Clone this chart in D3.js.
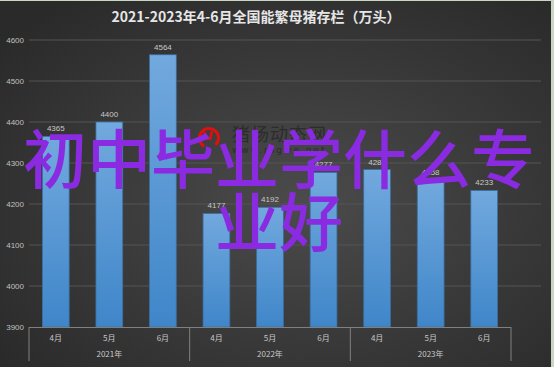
<!DOCTYPE html>
<html><head><meta charset="utf-8">
<script src="https://cdn.jsdelivr.net/npm/d3@7"></script>
<style>html,body{margin:0;padding:0;background:#c9d6c2;}svg{display:block;}</style>
</head><body>
<svg id="c" width="554" height="367"></svg>
<script>
const title = "2021-2023年4-6月全国能繁母猪存栏（万头）";
const months = ["4月","5月","6月","4月","5月","6月","4月","5月","6月"];
const years = ["2021年","2022年","2023年"];
const values = [4365, 4400, 4564, 4177, 4192, 4277, 4284, 4258, 4233];
const yTicks = [3900, 4000, 4100, 4200, 4300, 4400, 4500, 4600];
const overlayLines = ["初中毕业学什么专", "业好"];

const svg = d3.select("#c");
const W = 551, H = 366;
const defs = svg.append("defs");
const bg = defs.append("radialGradient").attr("id","bg").attr("cx","55%").attr("cy","55%").attr("r","70%");
bg.append("stop").attr("offset","0%").attr("stop-color","#4b4b4b");
bg.append("stop").attr("offset","100%").attr("stop-color","#2a2a2a");
const bar = defs.append("linearGradient").attr("id","bar").attr("x1",0).attr("y1",0).attr("x2",0).attr("y2",1);
bar.append("stop").attr("offset","0%").attr("stop-color","#72a9de");
bar.append("stop").attr("offset","100%").attr("stop-color","#3f86c9");

svg.append("rect").attr("x",0).attr("y",1).attr("width",W).attr("height",H).attr("fill","url(#bg)");

const left = 29, right = 511, gridRight = 541;
const y = d3.scaleLinear().domain([3900, 4600]).range([327, 40]);
const x = d3.scaleBand().domain(d3.range(values.length)).range([left, right]).paddingInner(0.5).paddingOuter(0.25);

svg.append("g").selectAll("line").data(yTicks.slice(1)).join("line")
  .attr("x1", left).attr("x2", gridRight).attr("y1", d=>y(d)).attr("y2", d=>y(d))
  .attr("stroke","#555555").attr("stroke-width",1);

svg.append("g").selectAll("text").data(yTicks).join("text")
  .attr("x", 24).attr("y", d=>y(d)).attr("dy","0.35em").attr("text-anchor","end")
  .attr("font-family","Liberation Sans, Arial, sans-serif").attr("font-size",8).attr("fill","#c0c0c0")
  .text(d=>d);

const wm = svg.append("g");
wm.append("path").attr("d", d3.arc()({innerRadius:8, outerRadius:11, startAngle:-2.6, endAngle:2.4}))
  .attr("transform","translate(209,138)").attr("fill","#e01010");
wm.append("path").attr("d","M204,132 L208,140 M212,131 L210,140").attr("stroke","#e01010").attr("stroke-width",2.5);
wm.append("text").attr("x",232).attr("y",141).attr("font-family","Noto Sans CJK SC").attr("font-size",18)
  .attr("fill","#2c2c2c").attr("letter-spacing",1).text("猪场动态网");
wm.append("text").attr("x",232).attr("y",153).attr("font-family","DejaVu Sans").attr("font-size",9)
  .attr("fill","#2c2c2c").attr("letter-spacing",2).text("www.pigwe.net");

svg.append("g").selectAll("rect").data(values).join("rect")
  .attr("x",(d,i)=>x(i)).attr("width",x.bandwidth())
  .attr("y",d=>y(d)).attr("height",d=>y(3900)-y(d))
  .attr("fill","url(#bar)").attr("stroke","#3b6e9e").attr("stroke-width",0.8);

svg.append("g").selectAll("text").data(values).join("text")
  .attr("x",(d,i)=>x(i)+x.bandwidth()/2).attr("y",d=>y(d)-5).attr("text-anchor","middle")
  .attr("font-family","Liberation Sans, Arial, sans-serif").attr("font-size",8).attr("fill","#c8c8c8")
  .text(d=>d);

const ax = svg.append("g");
ax.append("line").attr("x1",left).attr("x2",right).attr("y1",y(3900)+0.5).attr("y2",y(3900)+0.5).attr("stroke","#808080");
const groupW = (right-left)/3;
ax.selectAll("line.sep").data(d3.range(4)).join("line").attr("class","sep")
  .attr("x1",d=>left+d*groupW).attr("x2",d=>left+d*groupW).attr("y1",y(3900)).attr("y2",361)
  .attr("stroke","#808080");
ax.selectAll("text.m").data(months).join("text").attr("class","m")
  .attr("x",(d,i)=>x(i)+x.bandwidth()/2).attr("y",338).attr("dy","0.35em").attr("text-anchor","middle")
  .attr("font-family","Noto Sans CJK SC").attr("font-size",8).attr("fill","#c8c8c8").text(d=>d);
ax.selectAll("text.yr").data(years).join("text").attr("class","yr")
  .attr("x",(d,i)=>left+(i+0.5)*groupW).attr("y",354).attr("dy","0.35em").attr("text-anchor","middle")
  .attr("font-family","Noto Sans CJK SC").attr("font-size",8).attr("fill","#c8c8c8").text(d=>d);

svg.append("text").attr("x",256).attr("y",17).attr("dy","0.35em").attr("text-anchor","middle")
  .attr("font-family","Noto Sans CJK SC").attr("font-weight","bold").attr("font-size",14)
  .attr("fill","#e6e6e6").text(title);

svg.append("g").selectAll("text").data(overlayLines).join("text")
  .attr("x",279).attr("y",(d,i)=>160+i*63).attr("dy","0.36em").attr("text-anchor","middle")
  .attr("font-family","Noto Sans CJK SC").attr("font-weight","500").attr("font-size",64)
  .attr("fill","#8a2be2").text(d=>d);
</script>
</body></html>
